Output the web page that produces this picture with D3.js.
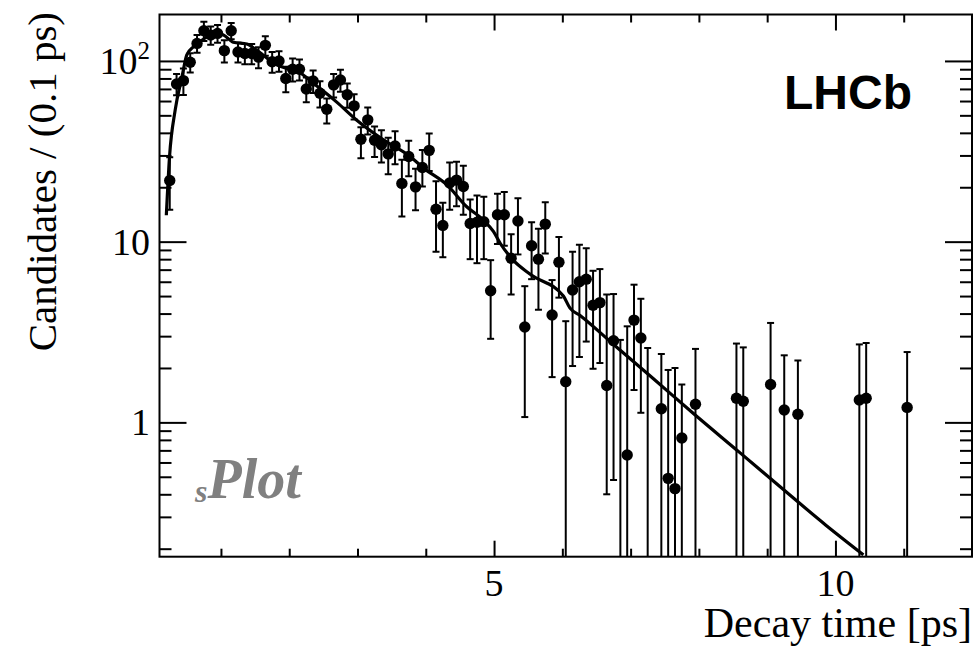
<!DOCTYPE html>
<html>
<head>
<meta charset="utf-8">
<script src="https://cdn.jsdelivr.net/npm/d3@7/dist/d3.min.js"></script>
<style>
  html, body { margin: 0; padding: 0; background: #fff; }
  svg { display: block; }
</style>
</head>
<body>
<svg id="chart" width="979" height="650"></svg>
<script>
// ---------------- data ----------------
const binT = [
  0.25,0.35,0.45,0.55,0.65,0.75,0.85,0.95,1.05,1.15,
  1.25,1.35,1.45,1.55,1.65,1.75,1.85,1.95,2.05,2.15,
  2.25,2.35,2.45,2.55,2.65,2.75,2.85,2.95,3.05,3.15,
  3.25,3.35,3.45,3.55,3.65,3.75,3.85,3.95,4.05,4.15,
  4.25,4.35,4.45,4.55,4.65,4.75,4.85,4.95,5.05,5.15,
  5.25,5.35,5.45,5.55,5.65,5.75,5.85,5.95,6.05,6.15,
  6.25,6.35,6.45,6.55,6.65,6.75,6.85,6.95,7.05,7.15,
  7.25,7.45,7.55,7.65,7.75,7.95,8.55,8.65,9.05,9.25,
  9.45,10.35,10.45,11.05
];
const candidates = [
  21.8,74.6,77.8,98.4,125,147,139,142,114,147,
  112,110,110,105,122,99,100,80,90,90,
  70,77.5,66.3,54,73.7,78.5,65,56.4,36.9,47.2,
  36.4,34.4,30.6,33.8,21.0,29.6,20.1,25.7,32.0,15.1,
  12.3,21.1,21.9,20.2,12.6,12.8,12.9,5.35,14.1,14.1,
  8.1,13.0,3.37,9.5,8.0,12.5,3.93,7.7,1.68,5.4,
  6.0,6.2,4.45,4.6,1.6,2.83,-0.3,0.66,3.68,2.93,
  -0.2,1.19,0.49,0.43,0.82,1.26,1.36,1.31,1.62,1.17,
  1.11,1.33,1.36,1.21
];
const errHigh = [
  7.5,10,13,12,14,18,16,16,16,15,
  14,14,14,14,15,13,13,13,13,12,
  11,11,11,8,11,11,10,9,6,8,
  7,7,7,7,7.4,6.6,5.2,6.5,7.7,6.5,
  4.1,6.3,5.8,6.1,4.5,5.2,4.8,2.55,4.3,4.7,
  2.9,4.4,2.3,3.3,3.8,4.0,2.2,2.9,1.95,3.4,
  3.6,3.0,2.45,2.45,3.5,2.3,3.16,2.74,2.1,1.9,
  2.78,1.2,1.46,1.57,0.8,1.29,1.37,1.29,1.93,1.18,
  1.09,1.37,1.39,1.24
];
const errLow = [
  6.8,10,13,12,14,18,16,16,16,15,
  14,14,14,14,15,13,13,13,13,12,
  11,11,11,9,11,11,10,9,8,8,
  7,7,7,7,7.2,6.6,5.2,5.5,7.4,6.3,
  4.1,6.1,6.2,6.1,4.6,5.2,4.9,2.45,4.4,4.6,
  3.0,4.5,2.3,3.3,3.8,3.9,2.15,2.8,1.95,3.35,
  3.7,3.4,2.47,2.47,1.2,2.35,3.16,2.74,2.17,1.8,
  2.78,1.2,1.46,1.57,0.8,1.29,1.37,1.29,1.93,1.18,
  1.09,1.37,1.39,1.24
];
// fit projection, points
const fitT = [0.20,0.247,0.33,0.43,0.50,0.60,0.745,0.94,1.04,1.18,1.38,1.53,1.82,2.16,2.40,2.70,2.99,3.38,3.77,3.97,4.31,4.60,4.84,4.99,5.09,5.28,5.53,6.015,6.11,6.26,6.75,7.33,7.92,8.60,9.19,9.86,10.41];
const fitV = [14,29.6,53.6,81.8,108,120,132,143,139,127,124,114,95,86,73,59,47,36.6,29.6,25.5,20.6,15.6,13.2,11.4,9.8,7.9,6.6,5.0,4.3,3.9,2.7,1.75,1.12,0.68,0.44,0.27,0.185];

const xMajorTicks = [5, 10];
const xMinorTicks = [1,2,3,4,6,7,8,9,11];
const xTickLabels = ["5", "10"];
const yMajorTicks = [1, 10, 100];
const yMinorTicks = [0.2,0.3,0.4,0.5,0.6,0.7,0.8,0.9,2,3,4,5,6,7,8,9,20,30,40,50,60,70,80,90];
const yTickLabels = [{base:"1", sup:""}, {base:"10", sup:""}, {base:"10", sup:"2"}];
const xTitle = "Decay time [ps]";
const yTitle = "Candidates / (0.1 ps)";

// ---------------- layout ----------------
const L = 159.5, R = 972, T = 14.5, B = 556.7;
const svg = d3.select("#chart");
svg.append("rect").attr("width", 979).attr("height", 650).attr("fill", "#fff");

const x = d3.scaleLinear().domain([0.1, 12]).range([L, R]);
const y = d3.scaleLog().domain([0.1806, 180.7]).range([B, T]);

const serif = "'Liberation Serif', 'Times New Roman', serif";

// clip
svg.append("defs").append("clipPath").attr("id", "plotclip")
  .append("rect").attr("x", L).attr("y", T).attr("width", R - L).attr("height", B - T);

// ---------------- axes (ticks inward on all sides) ----------------
function styleAxis(g) {
  g.select(".domain").remove();
  g.selectAll("line").attr("stroke", "#000").attr("stroke-width", 2);
  g.selectAll("text").remove();
}
svg.append("g").attr("transform", `translate(0,${B})`)
  .call(d3.axisBottom(x).tickValues(xMajorTicks).tickSize(-16).tickFormat(""))
  .call(styleAxis);
svg.append("g").attr("transform", `translate(0,${B})`)
  .call(d3.axisBottom(x).tickValues(xMinorTicks).tickSize(-8).tickFormat(""))
  .call(styleAxis);
svg.append("g").attr("transform", `translate(0,${T})`)
  .call(d3.axisTop(x).tickValues(xMajorTicks).tickSize(-16).tickFormat(""))
  .call(styleAxis);
svg.append("g").attr("transform", `translate(0,${T})`)
  .call(d3.axisTop(x).tickValues(xMinorTicks).tickSize(-8).tickFormat(""))
  .call(styleAxis);
svg.append("g").attr("transform", `translate(${L},0)`)
  .call(d3.axisLeft(y).tickValues(yMajorTicks).tickSize(-27).tickFormat(""))
  .call(styleAxis);
svg.append("g").attr("transform", `translate(${L},0)`)
  .call(d3.axisLeft(y).tickValues(yMinorTicks).tickSize(-12).tickFormat(""))
  .call(styleAxis);
svg.append("g").attr("transform", `translate(${R},0)`)
  .call(d3.axisRight(y).tickValues(yMajorTicks).tickSize(-27).tickFormat(""))
  .call(styleAxis);
svg.append("g").attr("transform", `translate(${R},0)`)
  .call(d3.axisRight(y).tickValues(yMinorTicks).tickSize(-12).tickFormat(""))
  .call(styleAxis);

// tick labels
svg.append("g").selectAll("text").data(xMajorTicks).join("text")
  .attr("x", d => x(d)).attr("y", 596)
  .attr("text-anchor", "middle")
  .attr("font-family", serif).attr("font-size", 38)
  .text((d, i) => xTickLabels[i]);

const yl = svg.append("g").selectAll("text").data(yMajorTicks).join("text")
  .attr("x", 150).attr("y", d => y(d) + 13)
  .attr("text-anchor", "end")
  .attr("font-family", serif).attr("font-size", 38);
yl.append("tspan").text((d, i) => yTickLabels[i].base);
yl.filter((d, i) => yTickLabels[i].sup !== "")
  .append("tspan").attr("dy", -15).attr("font-size", 25)
  .text((d, i) => "2");

// titles
svg.append("text").attr("x", 972).attr("y", 637)
  .attr("text-anchor", "end").attr("font-family", serif).attr("font-size", 42)
  .text(xTitle);
svg.append("text")
  .attr("transform", `translate(56,12) rotate(-90)`)
  .attr("text-anchor", "end").attr("font-family", serif).attr("font-size", 41)
  .text(yTitle);

// ---------------- data ----------------
const pts = binT.map((t, i) => ({ t, v: candidates[i], hi: errHigh[i], lo: errLow[i] }));
const yClamp = v => (v <= y.domain()[0] ? B : Math.max(T, y(v)));

const plot = svg.append("g").attr("clip-path", "url(#plotclip)");

// error bars
const eb = plot.append("g").attr("stroke", "#000").attr("stroke-width", 2);
eb.selectAll("line.bar").data(pts).join("line").attr("class", "bar")
  .attr("x1", d => x(d.t)).attr("x2", d => x(d.t))
  .attr("y1", d => yClamp(d.v + d.hi))
  .attr("y2", d => yClamp(d.v - d.lo));
eb.selectAll("line.capHi").data(pts).join("line").attr("class", "capHi")
  .attr("x1", d => x(d.t) - 3.5).attr("x2", d => x(d.t) + 3.5)
  .attr("y1", d => yClamp(d.v + d.hi)).attr("y2", d => yClamp(d.v + d.hi));
eb.selectAll("line.capLo").data(pts.filter(d => d.v - d.lo > y.domain()[0])).join("line").attr("class", "capLo")
  .attr("x1", d => x(d.t) - 3.5).attr("x2", d => x(d.t) + 3.5)
  .attr("y1", d => y(d.v - d.lo)).attr("y2", d => y(d.v - d.lo));

// fit curve
const line = d3.line().x(d => x(d[0])).y(d => y(d[1])).curve(d3.curveMonotoneX);
plot.append("path").datum(fitT.map((t, i) => [t, fitV[i]]))
  .attr("d", line).attr("fill", "none").attr("stroke", "#000").attr("stroke-width", 3.2);

// markers
plot.append("g").selectAll("circle").data(pts.filter(d => d.v > 0)).join("circle")
  .attr("cx", d => x(d.t)).attr("cy", d => y(d.v)).attr("r", 5.7).attr("fill", "#000");

// frame
svg.append("rect").attr("x", L).attr("y", T).attr("width", R - L).attr("height", B - T)
  .attr("fill", "none").attr("stroke", "#000").attr("stroke-width", 2);

// labels
svg.append("text").attr("x", 912).attr("y", 109)
  .attr("text-anchor", "end").attr("font-family", "'Liberation Sans', Arial, sans-serif")
  .attr("font-weight", "bold").attr("font-size", 48).text("LHCb");

const sp = svg.append("text").attr("x", 195).attr("y", 498)
  .attr("font-family", serif).attr("font-weight", "bold").attr("font-style", "italic")
  .attr("fill", "#808080");
sp.append("tspan").attr("font-size", 32).attr("dy", 4).text("s");
sp.append("tspan").attr("font-size", 56).attr("dy", -4).text("Plot");
</script>
</body>
</html>
